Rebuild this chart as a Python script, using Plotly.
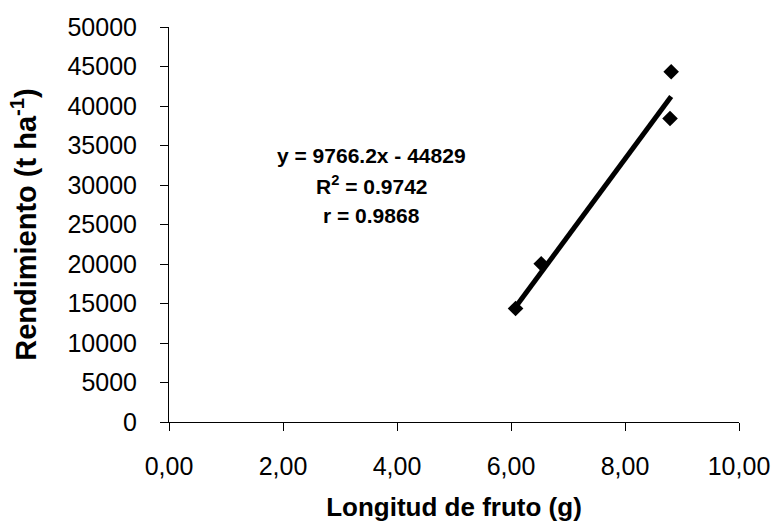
import plotly.graph_objects as go

# Fruit length (g) vs. yield
longitud = [6.08, 6.53, 8.79, 8.81]
rendimiento = [14360, 20025, 38410, 44330]

# Fitted linear regression
pendiente = 9766.2
intercepto = -44829
r2 = 0.9742
r = 0.9868

x_fit = [min(longitud), max(longitud)]
y_fit = [pendiente * v + intercepto for v in x_fit]

x_ticks = [0, 2, 4, 6, 8, 10]
y_ticks = list(range(0, 50001, 5000))

font_family = "Liberation Sans, Arial, sans-serif"

fig = go.Figure()
fig.add_trace(go.Scatter(
    x=x_fit, y=y_fit, mode="lines",
    line=dict(color="black", width=5),
    showlegend=False, hoverinfo="skip",
))
fig.add_trace(go.Scatter(
    x=longitud, y=rendimiento, mode="markers",
    marker=dict(symbol="diamond", size=12, color="black"),
    showlegend=False,
))

# Regression equation block, one line per annotation
eq_lines = [
    f"y = {pendiente}x - {abs(intercepto)}",
    f"R<sup>2</sup> = {r2}",
    f"r = {r}",
]
eq_y = [33700, 29950, 26200]
for txt, yy in zip(eq_lines, eq_y):
    fig.add_annotation(
        x=3.56, y=yy, xref="x", yref="y",
        text=txt, showarrow=False,
        font=dict(family=font_family, size=21, color="black", weight="bold"),
        align="center", xanchor="center", yanchor="middle",
    )

axis_common = dict(
    showline=True, linecolor="black", linewidth=1,
    ticks="outside", ticklen=8, tickcolor="black", tickwidth=1,
    showgrid=False, zeroline=False, mirror=False,
    tickfont=dict(family=font_family, size=25, color="black"),
)

fig.update_xaxes(
    range=[0, 10], tickvals=x_ticks, tickformat=".2f",
    ticklabelstandoff=14,
    title=dict(text="Longitud de fruto (g)", standoff=18,
               font=dict(family=font_family, size=26, color="black", weight="bold")),
    **axis_common,
)
fig.update_yaxes(
    range=[0, 50000], tickvals=y_ticks, tickformat="d",
    ticklabelstandoff=18,
    title=dict(text="Rendimiento (t ha<sup>-1</sup>)", standoff=22,
               font=dict(family=font_family, size=29, color="black", weight="bold")),
    **axis_common,
)

fig.update_layout(
    width=782, height=528,
    margin=dict(l=169, r=43, t=27, b=103),
    plot_bgcolor="white", paper_bgcolor="white",
    separators=",.",
    font=dict(family=font_family, color="black"),
)

fig.write_html("out.html")
